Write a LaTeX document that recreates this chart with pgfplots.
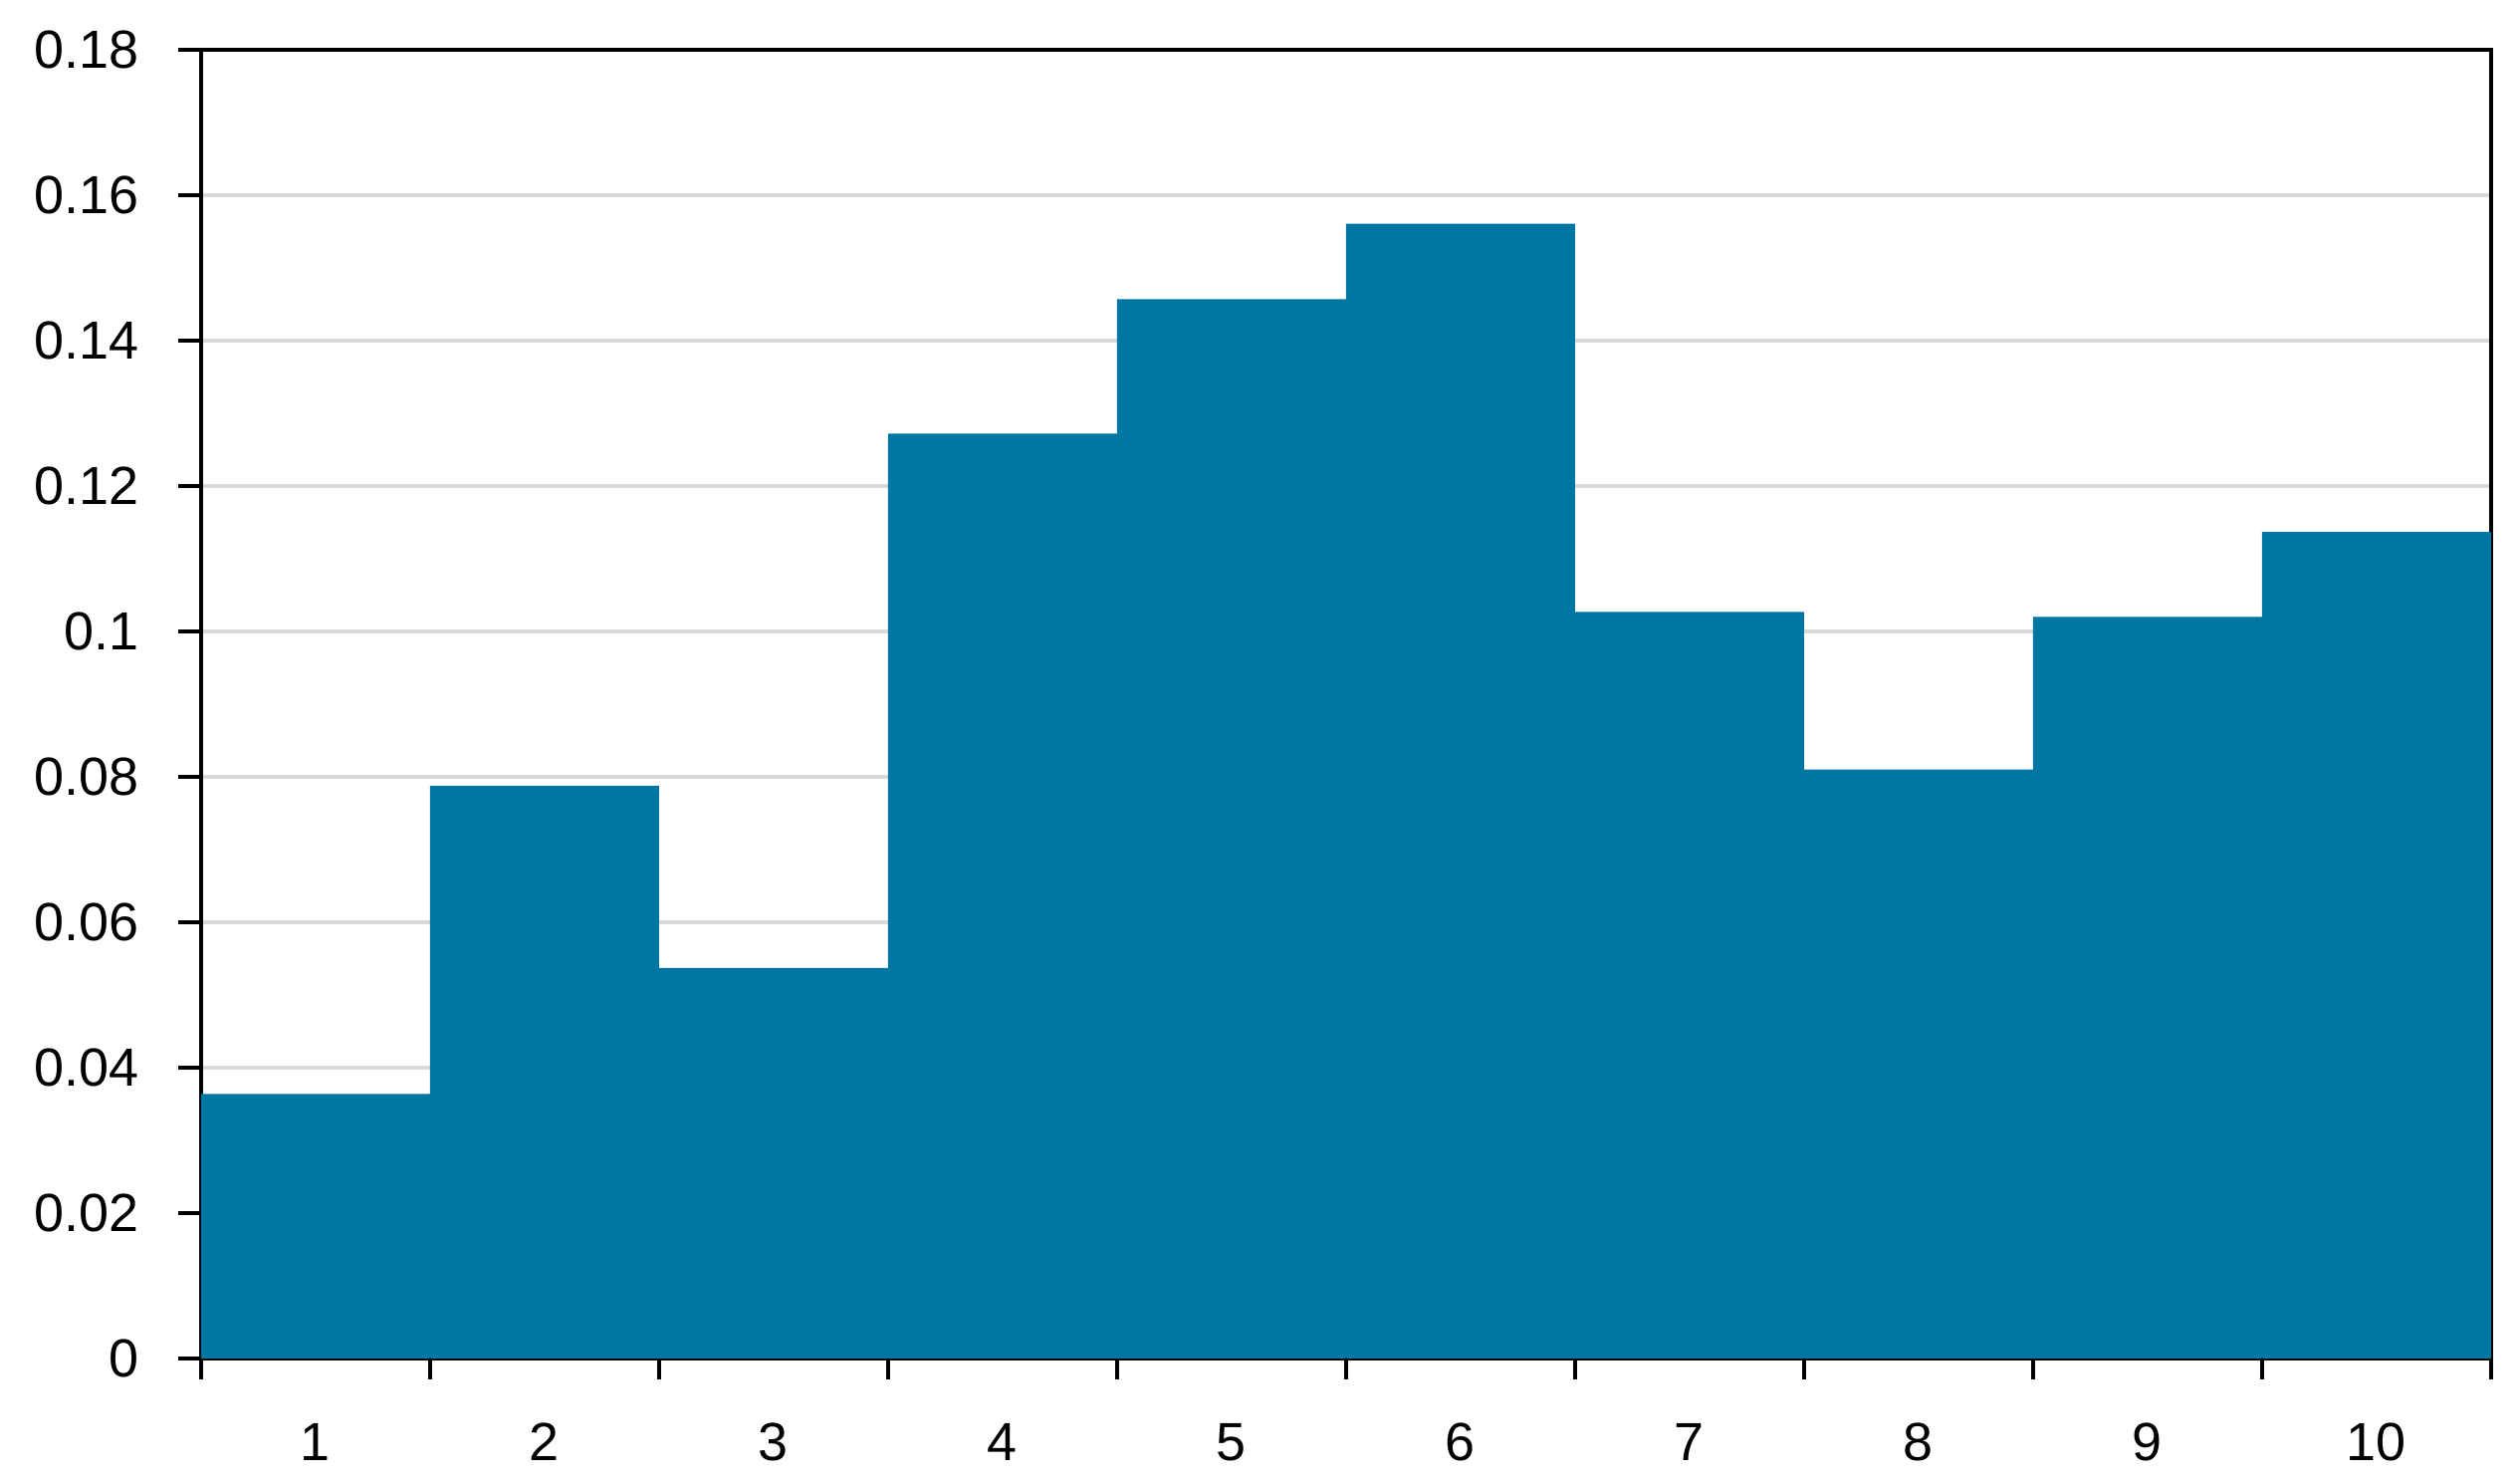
\documentclass[border=0pt]{standalone}
\usepackage{pgfplots}
\pgfplotsset{compat=1.18}
\usepackage{fontspec}
\setmainfont{Liberation Sans}
\definecolor{barblue}{RGB}{0,118,163}
\definecolor{gridgray}{RGB}{217,217,217}
\pgfplotsset{
  layers/gridbelow/.define layer set={axis background,axis grid,main,axis ticks,axis lines,axis tick labels,axis descriptions,axis foreground}{},
}
\begin{document}
\begin{tikzpicture}
\begin{axis}[
  set layers=gridbelow,
  scale only axis,
  width=14.25cm, height=8.14cm,
  xmin=0.5, xmax=10.5,
  ymin=0, ymax=0.18,
  axis line style={black, line width=0.8pt},
  ytick={0,0.02,0.04,0.06,0.08,0.1,0.12,0.14,0.16,0.18},
  yticklabels={0,0.02,0.04,0.06,0.08,0.1,0.12,0.14,0.16,0.18},
  xtick={1,2,3,4,5,6,7,8,9,10},
  xticklabels={1,2,3,4,5,6,7,8,9,10},
  minor xtick={0.5,1.5,...,10.5},
  xtick pos=bottom, ytick pos=left,
  tick align=outside,
  major x tick style={draw=none},
  major tick length=0.14cm,
  minor tick length=0.13cm,
  tick style={black, line width=0.8pt},
  ymajorgrids,
  major grid style={gridgray, line width=0.7pt},
  tick label style={font=\fontsize{9.5}{11}\selectfont},
  yticklabel style={xshift=-0.12cm},
  xticklabel style={yshift=-0.14cm},
]
\addplot[ybar interval, fill=barblue, draw=none] coordinates {
 (0.5,0.0364) (1.5,0.0788) (2.5,0.0537) (3.5,0.1272) (4.5,0.1457)
 (5.5,0.1561) (6.5,0.1027) (7.5,0.0810) (8.5,0.1020) (9.5,0.1137) (10.5,0.1137)
};
\end{axis}
\pgfresetboundingbox
\path (current axis.south west) ++(-1.25cm,-0.78cm) coordinate (bbA);
\path (current axis.north east) ++(0.18cm,0.31cm) coordinate (bbB);
\useasboundingbox (bbA) rectangle (bbB);
\end{tikzpicture}
\end{document}
